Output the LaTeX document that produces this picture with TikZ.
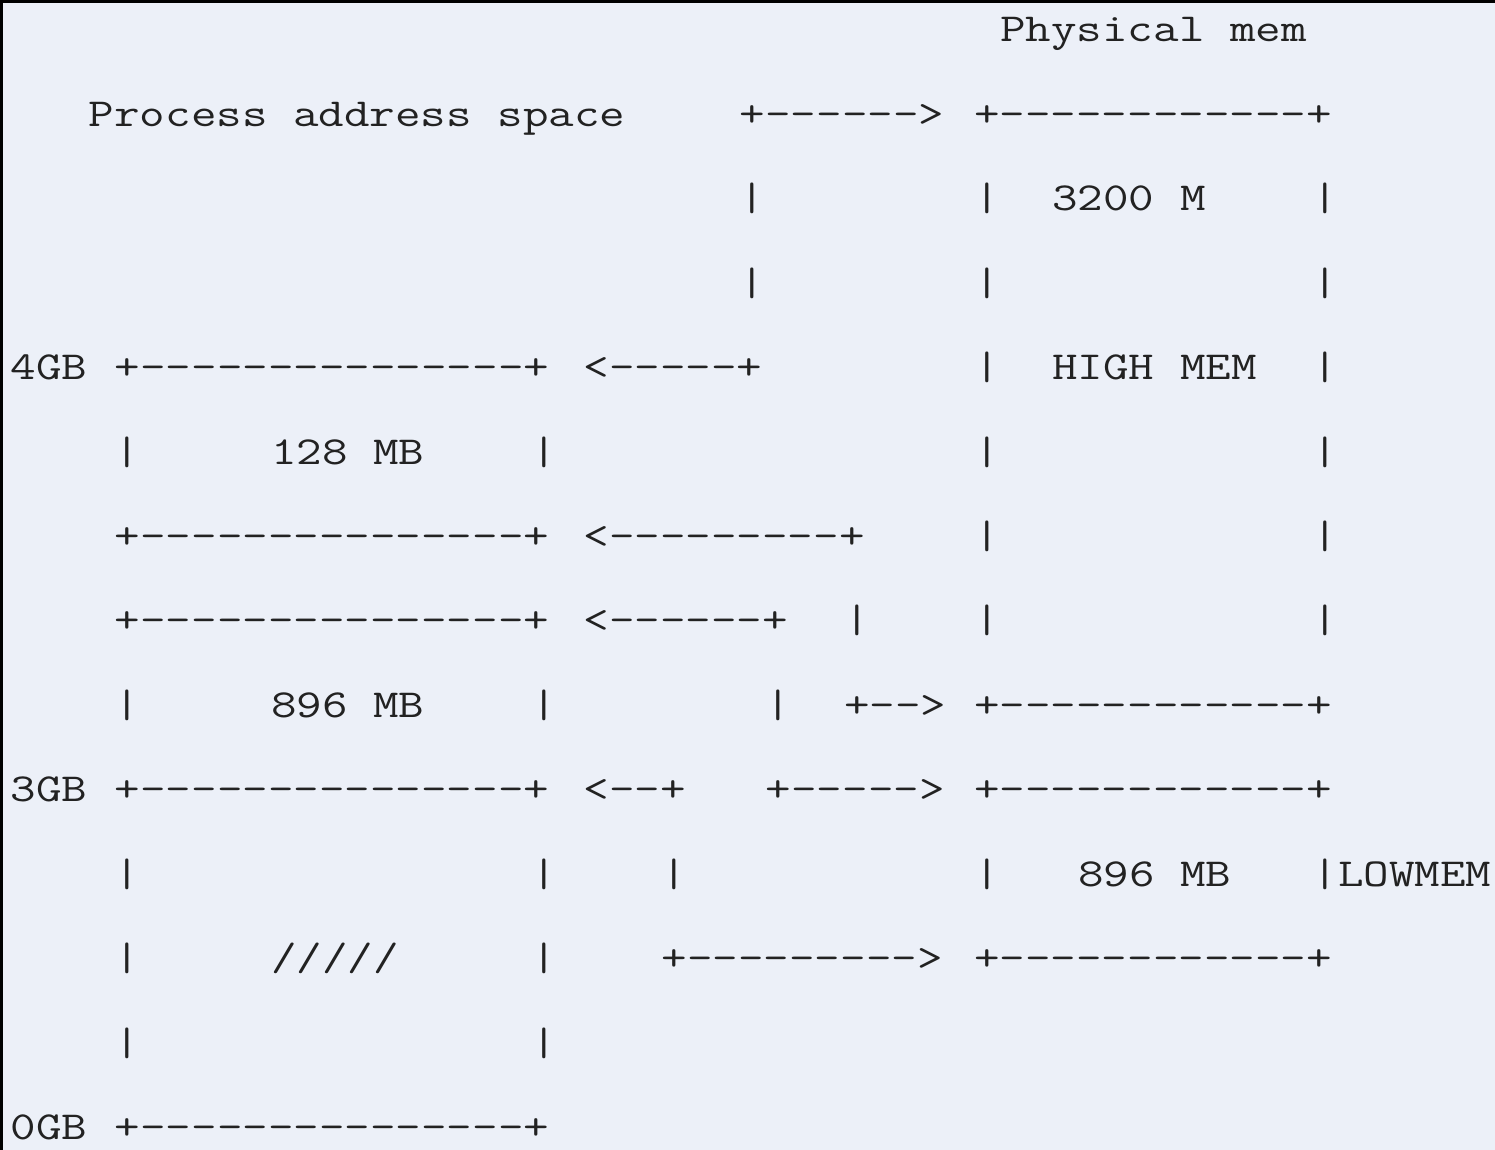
\documentclass[tikz,border=0pt]{standalone}
\usepackage{fontspec}
\setmonofont{Latin Modern Mono}[FakeStretch=1.25]
\usepackage{tikz}
\usetikzlibrary{positioning}
\definecolor{memback}{HTML}{ECF0F8}
\definecolor{memink}{HTML}{222222}
\tikzset{
  mm txt/.style={anchor=base west, inner sep=0pt, outer sep=0pt, text=memink,
                 font=\ttfamily\fontsize{19.84pt}{20pt}\selectfont},
  mm frame/.style={line width=3pt, black},
}

\begin{document}
\begin{tikzpicture}[x=13.02pt, y=-42.225pt]
  \useasboundingbox (-0.4124,-0.495) rectangle (57.0,13.122);
  \fill[memback] (-0.4124,-0.495) rectangle (57.0,13.122);
  \draw[mm frame] (-0.4124,13.122) -- (-0.4124,-0.495) -- (57.0,-0.495);
  % process address space
  \node[mm txt] (pas) at (3,1) {Process address space};
  \foreach \r/\l in {4/4GB,9/3GB,13/0GB} \node[mm txt] (gb\r) at (0,\r) {\l};
  \foreach \r in {4,6,7,9,13} \node[mm txt] (vb\r) at (4,\r) {+---------------+};
  \foreach \r in {5,8,10,11,12} {
    \node[mm txt] (vl\r) at (4,\r) {|};
    \node[mm txt] (vr\r) at (20,\r) {|};
  }
  \node[mm txt] (v128) at (10,5) {128 MB};
  \node[mm txt] (v896) at (10,8) {896 MB};
  \node[mm txt] (vgap) at (10,11) {/////};
  % mappings
  \node[mm txt] (hiout) at (28,1) {+------>};
  \node[mm txt] (hiv2) at (28,2) {|};
  \node[mm txt] (hiv3) at (28,3) {|};
  \node[mm txt] (hiin) at (22,4) {<-----+};
  \node[mm txt] (ain) at (22,6) {<---------+};
  \node[mm txt] (av7) at (32,7) {|};
  \node[mm txt] (aout) at (32,8) {+-->};
  \node[mm txt] (bin) at (22,7) {<------+};
  \node[mm txt] (bv8) at (29,8) {|};
  \node[mm txt] (bout) at (29,9) {+----->};
  \node[mm txt] (lin) at (22,9) {<--+};
  \node[mm txt] (lv10) at (25,10) {|};
  \node[mm txt] (lout) at (25,11) {+--------->};
  % physical memory
  \node[mm txt] (phys) at (38,0) {Physical mem};
  \foreach \r in {1,8,9,11} \node[mm txt] (pb\r) at (37,\r) {+------------+};
  \foreach \r in {2,...,7,10} \node[mm txt] (pl\r) at (37,\r) {|};
  \foreach \r in {2,...,7} \node[mm txt] (pr\r) at (50,\r) {|};
  \node[mm txt] (p3200) at (40,2) {3200 M};
  \node[mm txt] (phigh) at (40,4) {HIGH MEM};
  \node[mm txt] (p896) at (41,10) {896 MB};
  \node[mm txt] (plow) at (50,10) {|LOWMEM};
\end{tikzpicture}
\end{document}
